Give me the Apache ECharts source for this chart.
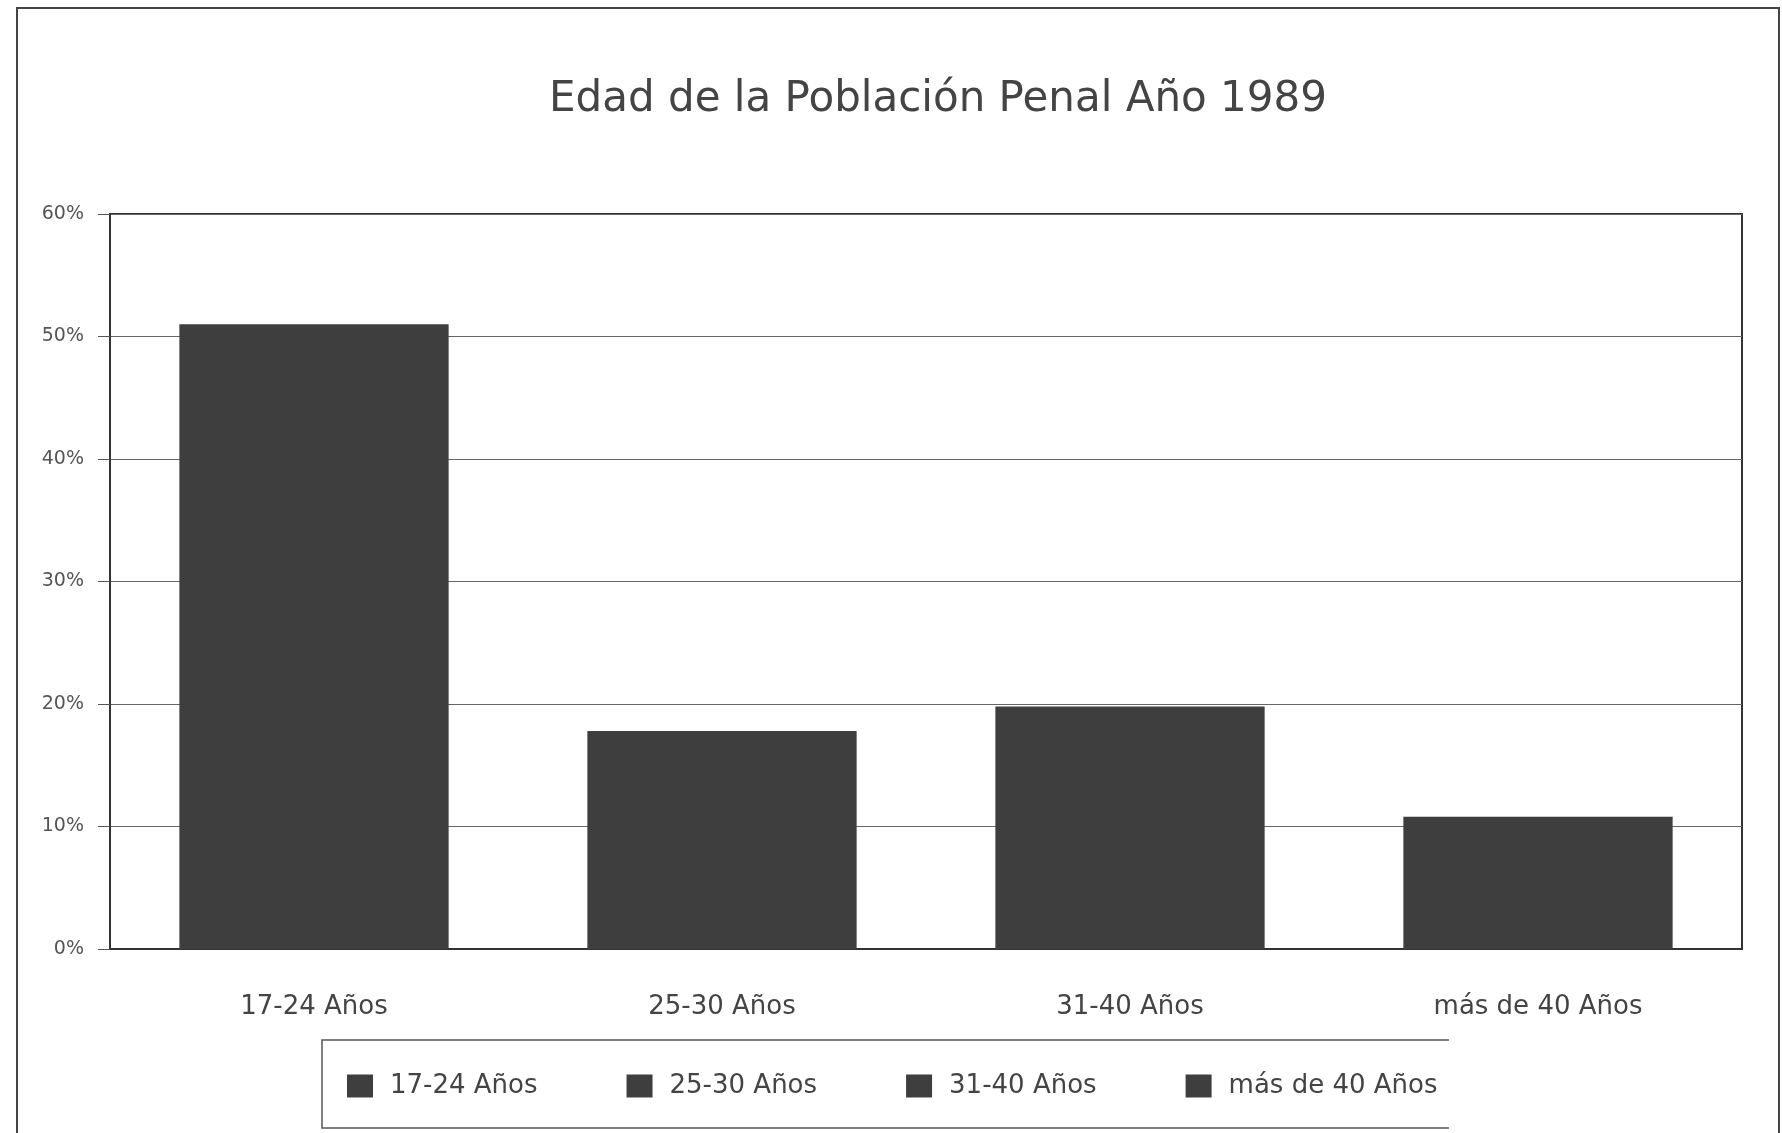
<!DOCTYPE html>
<html>
<head>
<meta charset="utf-8">
<title>Edad de la Población Penal Año 1989</title>
<script src="https://cdn.jsdelivr.net/npm/echarts@6/dist/echarts.min.js"></script>
<style>
  html, body { margin: 0; padding: 0; background: #fff; }
  #chart { width: 1782px; height: 1133px; }
</style>
</head>
<body>
<div id="chart"></div>
<script>
// categorías y valores (%)
var categories = ['17-24 Años', '25-30 Años', '31-40 Años', 'más de 40 Años'];
var values = [51, 17.8, 19.8, 10.8];
var yTicks = [0, 10, 20, 30, 40, 50, 60];

var barColor = '#3e3e3e';
var font = 'DejaVu Sans';

var chart = echarts.init(document.getElementById('chart'));

// una serie por categoría para que la leyenda muestre las cuatro
var series = categories.map(function (name, i) {
  var data = categories.map(function (c, j) { return j === i ? values[i] : '-'; });
  return {
    name: name,
    type: 'bar',
    data: data,
    barWidth: '66%',
    barGap: '-100%',
    itemStyle: { color: barColor },
    silent: true
  };
});

var option = {
  backgroundColor: '#fff',
  animation: false,
  title: {
    text: 'Edad de la Población Penal Año 1989',
    left: 933,
    textAlign: 'center',
    top: 74,
    textStyle: { fontFamily: font, fontSize: 42, fontWeight: 'normal', color: '#444' }
  },
  grid: {
    left: 110, right: 40, top: 214, bottom: 184,
    show: true, borderColor: '#333', borderWidth: 2, backgroundColor: '#fff'
  },
  legend: {
    data: categories,
    left: 347,
    top: 1073,
    padding: 0,
    itemWidth: 26,
    itemHeight: 23,
    itemGap: 89,
    icon: 'rect',
    textStyle: { fontFamily: font, fontSize: 26, color: '#444', padding: [0, 0, 0, 12] }
  },
  xAxis: {
    type: 'category',
    data: categories,
    axisLine: { show: true, lineStyle: { color: '#333', width: 2 } },
    axisTick: { show: false },
    axisLabel: { fontFamily: font, fontSize: 26, color: '#444', margin: 45 }
  },
  yAxis: {
    type: 'value',
    min: yTicks[0],
    max: yTicks[yTicks.length - 1],
    interval: 10,
    axisLine: { show: true, lineStyle: { color: '#333', width: 2 } },
    axisTick: { show: true, length: 12, lineStyle: { color: '#555' } },
    axisLabel: { fontFamily: font, fontSize: 19, color: '#555', margin: 26, formatter: '{value}%' },
    splitLine: { show: true, lineStyle: { color: '#666', width: 1 } }
  },
  graphic: [
    // marco exterior
    { type: 'polyline', silent: true, shape: { points: [[17, 1133], [17, 8], [1779, 8], [1779, 1133]] },
      style: { stroke: '#444', lineWidth: 2, fill: null } },
    // recuadro de la leyenda
    { type: 'polyline', silent: true, shape: { points: [[1449, 1040], [322, 1040], [322, 1128], [1449, 1128]] },
      style: { stroke: '#555', lineWidth: 1.5, fill: null } }
  ],
  series: series
};

chart.setOption(option);
</script>
</body>
</html>
